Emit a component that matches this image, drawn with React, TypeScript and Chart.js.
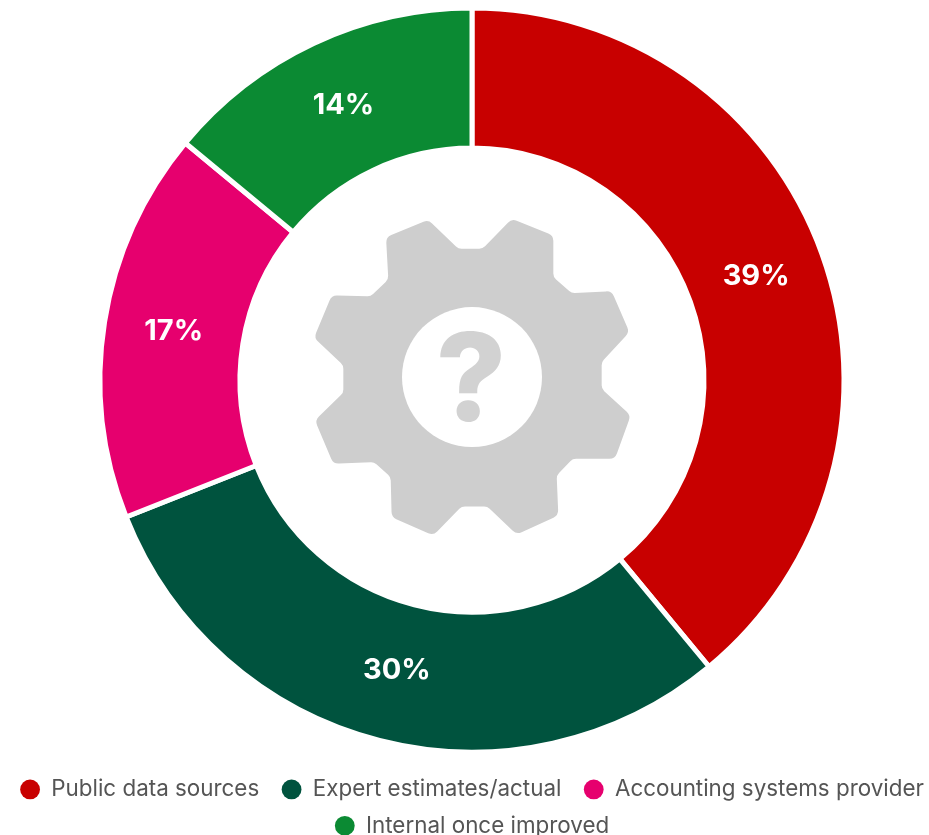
import React, { useEffect, useRef } from "react";
import { Chart, registerables } from "chart.js";

Chart.register(...registerables);

const categories = [
  "Public data sources",
  "Expert estimates/actual",
  "Accounting systems provider",
  "Internal once improved",
];
const shares = [39, 30, 17, 14];
const sliceColors = ["#c80000", "#00533e", "#e6006e", "#0b8a33"];

const FONT = "Inter, 'Noto Sans', sans-serif";

// Gear outline in icon units (three units per pixel), around the icon's own centre.
const GEAR_CENTER = [516, 530];
const GEAR_OUTLINE = [
  [258, 110], [385, 58], [475, 145], [548, 145], [635, 55], [760, 105],
  [760, 230], [815, 278], [935, 272], [988, 395], [905, 485], [905, 565],
  [992, 645], [945, 775], [818, 775], [770, 825], [775, 945], [650, 1002],
  [562, 918], [485, 918], [400, 1005], [275, 950], [272, 830], [222, 785],
  [100, 790], [45, 660], [130, 577], [130, 495], [42, 412], [95, 285],
  [212, 288], [265, 237],
];

const sliceLabels = {
  id: "sliceLabels",
  afterDatasetsDraw(chart: Chart) {
    const { ctx } = chart;
    ctx.save();
    ctx.fillStyle = "#ffffff";
    ctx.font = `700 29px ${FONT}`;
    ctx.textAlign = "center";
    ctx.textBaseline = "middle";
    chart.getDatasetMeta(0).data.forEach((arc: any, i: number) => {
      const p = arc.getCenterPoint();
      ctx.fillText(`${shares[i]}%`, p.x, p.y - 2);
    });
    ctx.restore();
  },
};

const gearIcon = {
  id: "gearIcon",
  afterDatasetsDraw(chart: Chart) {
    const { ctx, chartArea } = chart;
    const cx = (chartArea.left + chartArea.right) / 2;
    const cy = (chartArea.top + chartArea.bottom) / 2 - 3;
    const pts = GEAR_OUTLINE.map(([x, y]) => [
      cx + (x - GEAR_CENTER[0]) / 3,
      cy + (y - GEAR_CENTER[1]) / 3,
    ]);
    ctx.save();
    ctx.fillStyle = "#cecece";
    ctx.beginPath();
    const n = pts.length;
    const start = [(pts[n - 1][0] + pts[0][0]) / 2, (pts[n - 1][1] + pts[0][1]) / 2];
    ctx.moveTo(start[0], start[1]);
    pts.forEach((p, i) => {
      const next = pts[(i + 1) % n];
      ctx.arcTo(p[0], p[1], next[0], next[1], 8);
    });
    ctx.closePath();
    ctx.fill();
    ctx.fillStyle = "#ffffff";
    ctx.beginPath();
    ctx.arc(cx, cy, 70, 0, Math.PI * 2);
    ctx.fill();
    ctx.fillStyle = "#d2d2d2";
    ctx.font = `800 122px ${FONT}`;
    ctx.textAlign = "center";
    ctx.textBaseline = "alphabetic";
    ctx.fillText("?", cx - 1, cy + 44);
    ctx.restore();
  },
};

export default function App() {
  const ref = useRef<HTMLCanvasElement>(null);

  useEffect(() => {
    const chart = new Chart(ref.current!, {
      type: "doughnut",
      data: {
        labels: categories,
        datasets: [
          {
            data: shares,
            backgroundColor: sliceColors,
            borderColor: "#ffffff",
            borderWidth: 5,
          },
        ],
      },
      options: {
        responsive: false,
        animation: false,
        radius: 372,
        cutout: 238,
        plugins: {
          tooltip: { enabled: false },
          legend: {
            position: "bottom",
            labels: {
              usePointStyle: true,
              pointStyle: "circle",
              boxWidth: 20,
              boxHeight: 14,
              padding: 14,
              color: "#555555",
              font: { family: FONT, size: 22.4, weight: "400" },
              generateLabels(c: Chart) {
                const items = Chart.overrides.doughnut.plugins.legend.labels.generateLabels(c);
                // Trailing spaces widen the gap between entries without widening the rows.
                return items.map((it: any, i: number) =>
                  i < 2 ? { ...it, text: `${it.text} \u200A`, lineWidth: 0 } : { ...it, lineWidth: 0 }
                );
              },
            },
          },
        },
      } as any,
      plugins: [sliceLabels, gearIcon],
    });
    return () => chart.destroy();
  }, []);

  return (
    <div style={{ position: "absolute", left: 0, top: 0, width: 929, height: 835, overflow: "hidden" }}>
      <canvas
        ref={ref}
        width={944}
        height={851}
        style={{ position: "absolute", left: 0, top: -4, display: "block" }}
      />
    </div>
  );
}
